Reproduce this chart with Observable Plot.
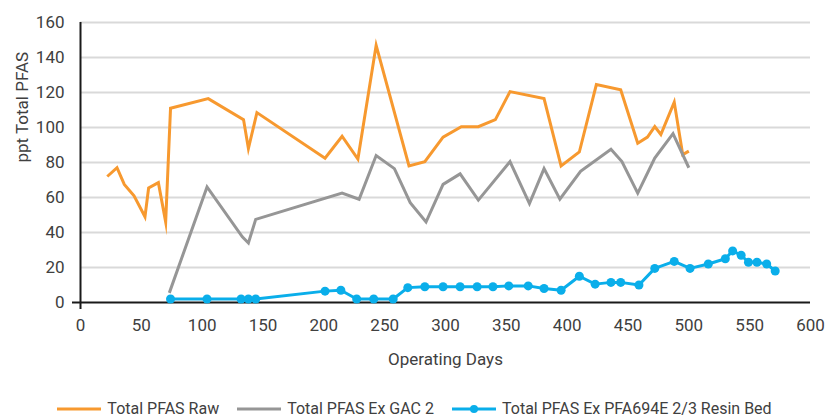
<!DOCTYPE html>
<html>
<head>
<meta charset="utf-8">
<script src="https://cdn.jsdelivr.net/npm/d3@7"></script>
<script src="https://cdn.jsdelivr.net/npm/@observablehq/plot@0.6"></script>
<style>
  html, body { margin: 0; padding: 0; background: #fff; overflow: hidden; }
  #chart { width: 825px; font-family: Roboto, sans-serif; }
  .legend { display: flex; justify-content: center; align-items: center; gap: 18px; height: 36px; margin-top: 11px; padding-left: 4px; font-family: Roboto, sans-serif; font-size: 16px; line-height: 16px; color: #404040; }
  .legend .item { display: flex; align-items: center; gap: 6px; white-space: nowrap; }
  .legend svg { display: block; }
</style>
</head>
<body>
<div id="chart"></div>
<script>
// Series: Total PFAS Raw
const rawDays = [22, 30, 36, 44, 53, 56, 64, 70, 74, 105, 134, 138, 145, 201, 215, 228, 243, 270, 283, 298, 313, 327, 341, 353, 381, 395, 410, 424, 444, 458, 466, 472, 477, 488, 495, 500];
const rawValues = [72, 77, 67.5, 61, 49, 65.5, 68.5, 46, 111, 116.5, 104.5, 88, 108.5, 82.5, 95, 82, 147, 78, 80.5, 94.5, 100.5, 100.5, 104.5, 120.5, 116.5, 78, 86, 124.5, 121.5, 91, 94.5, 100.5, 96, 114.5, 84.5, 86.5];

// Series: Total PFAS Ex GAC 2
const gacDays = [73, 104, 133, 138, 144, 215, 229, 243, 258, 271, 284, 298, 312, 327, 353, 369, 381, 394, 411, 436, 445, 458, 472, 487, 500];
const gacValues = [5.5, 66, 37.5, 34, 47.5, 62.5, 59, 84, 76.5, 57, 46, 67.5, 73.5, 58.5, 80.5, 56.5, 76.5, 59, 75, 87.5, 80.5, 62.5, 82.5, 96.5, 77];

// Series: Total PFAS Ex PFA694E 2/3 Resin Bed
const resinDays = [74, 104, 132, 138, 144, 201, 214, 227, 241, 257, 269, 283, 298, 312, 326, 339, 352, 368, 381, 395, 410, 423, 436, 444, 459, 472, 488, 501, 516, 530, 536, 543, 549, 556, 564, 571];
const resinValues = [2, 2, 2, 2, 2, 6.5, 7, 2, 2, 2, 8.5, 9, 9, 9, 9, 9, 9.5, 9.5, 8, 7, 15, 10.5, 11.5, 11.5, 10, 19.5, 23.5, 19.5, 22, 25, 29.5, 27, 23, 23, 22, 18];

// Axis ticks and labels
const xTicks = [0, 50, 100, 150, 200, 250, 300, 350, 400, 450, 500, 550, 600];
const yTicks = [0, 20, 40, 60, 80, 100, 120, 140, 160];
const xLabel = "Operating Days";
const yLabel = "ppt Total PFAS";
const seriesNames = ["Total PFAS Raw", "Total PFAS Ex GAC 2", "Total PFAS Ex PFA694E 2/3 Resin Bed"];
const seriesColors = ["#f7992f", "#969696", "#0aaeea"];

const raw = rawDays.map((d, i) => ({day: d, value: rawValues[i]}));
const gac = gacDays.map((d, i) => ({day: d, value: gacValues[i]}));
const resin = resinDays.map((d, i) => ({day: d, value: resinValues[i]}));

const textColor = "#404040";

const plot = Plot.plot({
  width: 825,
  height: 380,
  marginLeft: 80,
  marginRight: 15,
  marginTop: 22,
  marginBottom: 78,
  style: {fontFamily: "Roboto, sans-serif", fontSize: "17px", color: textColor, background: "#fff"},
  x: {domain: [0, 600]},
  y: {domain: [0, 160]},
  marks: [
    Plot.gridY(yTicks.filter(t => t > 0), {stroke: "#d9d9d9", strokeOpacity: 1, strokeWidth: 2}),
    Plot.axisY(yTicks, {tickSize: 0, tickPadding: 16, label: null, fill: textColor, fontSize: 17}),
    Plot.axisX(xTicks, {tickSize: 0, tickPadding: 16, label: null, fill: textColor, fontSize: 17}),
    Plot.text([yLabel], {frameAnchor: "left", rotate: -90, dx: -58, fill: textColor, fontSize: 17}),
    Plot.text([xLabel], {frameAnchor: "bottom", dy: 62, fill: textColor, fontSize: 17}),
    Plot.ruleY([0], {stroke: "#1a1a1a", strokeWidth: 2, insetLeft: -8}),
    Plot.ruleX([0], {stroke: "#1a1a1a", strokeWidth: 2, insetBottom: -7}),
    Plot.line(raw, {x: "day", y: "value", stroke: seriesColors[0], strokeWidth: 3, strokeLinejoin: "miter", strokeMiterlimit: 10, strokeLinecap: "butt"}),
    Plot.line(gac, {x: "day", y: "value", stroke: seriesColors[1], strokeWidth: 3, strokeLinejoin: "miter", strokeMiterlimit: 10, strokeLinecap: "butt"}),
    Plot.line(resin, {x: "day", y: "value", stroke: seriesColors[2], strokeWidth: 3, strokeLinejoin: "round"}),
    Plot.dot(resin, {x: "day", y: "value", fill: seriesColors[2], r: 4.5, stroke: null})
  ]
});
document.getElementById("chart").appendChild(plot);

// Legend
const legend = document.createElement("div");
legend.className = "legend";
seriesNames.forEach((name, i) => {
  const item = document.createElement("div");
  item.className = "item";
  const dot = i === 2 ? `<circle cx="22" cy="5" r="4" fill="${seriesColors[i]}"/>` : "";
  item.innerHTML = `<svg width="44" height="10"><line x1="0" x2="44" y1="5" y2="5" stroke="${seriesColors[i]}" stroke-width="3"/>${dot}</svg><span>${name}</span>`;
  legend.appendChild(item);
});
document.getElementById("chart").appendChild(legend);
</script>
</body>
</html>
